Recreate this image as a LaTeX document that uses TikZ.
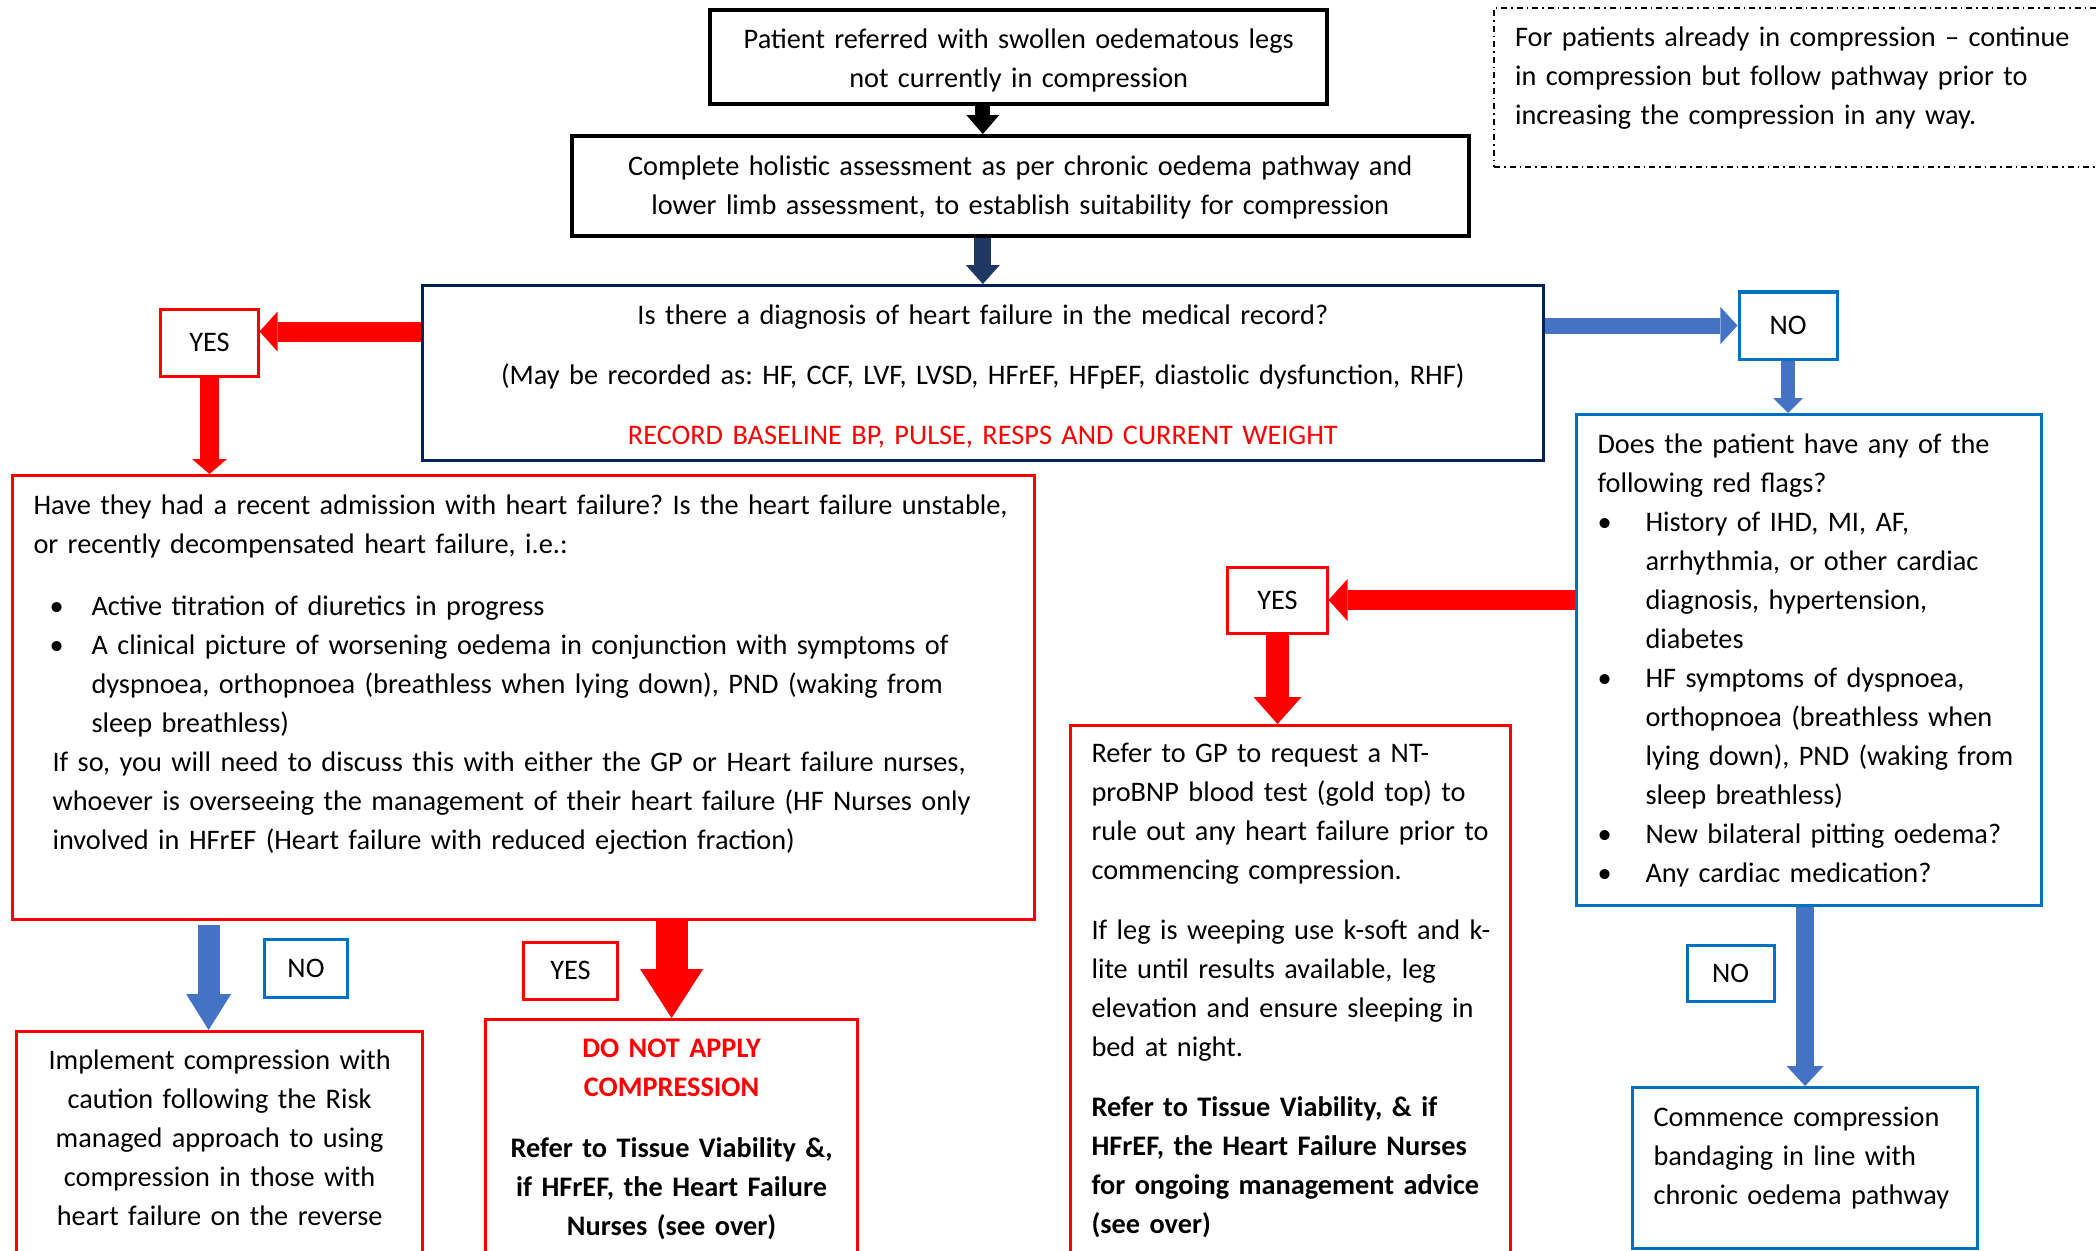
\documentclass[tikz,border=0pt]{standalone}
\usepackage{fontspec}
\setmainfont{Carlito}
\usetikzlibrary{arrows.meta,positioning,calc}
\definecolor{navyline}{RGB}{0,32,96}
\definecolor{blueline}{RGB}{0,112,192}
\definecolor{bluefill}{RGB}{68,114,196}
\definecolor{navyfill}{RGB}{32,56,100}
\newcommand{\boxfont}{\fontsize{8.05}{11.1}\selectfont\frenchspacing\hyphenpenalty=10000 }
\newcommand{\bul}[2]{\hspace*{#1}\makebox[#2][l]{\textbullet}}
\tikzset{
    box/.style={draw, line width=0.03cm, anchor=north west, inner xsep=0.21cm, inner ysep=0pt,
        align=left, font=\boxfont},
    blackbox/.style={box, line width=0.04cm, align=center},
    redbox/.style={box, draw=red},
    bluebox/.style={box, draw=blueline},
    lab/.style={draw, line width=0.03cm, inner sep=0pt, font=\boxfont},
    redarrow/.style n args={3}{draw=red, line width=#1, -{Triangle[width=#2, length=#3, line width=0pt]}},
    bluearrow/.style n args={3}{draw=bluefill, line width=#1, -{Triangle[width=#2, length=#3, line width=0pt]}},
    navyarrow/.style n args={3}{draw=navyfill, line width=#1, -{Triangle[width=#2, length=#3, line width=0pt]}},
    blackarrow/.style n args={3}{draw=black, line width=#1, -{Triangle[width=#2, length=#3, line width=0pt]}}
}
\begin{document}
\begin{tikzpicture}[x=0.01cm, y=-0.01cm]
    \useasboundingbox (0,0) rectangle (2098,1250);
    \clip (0,0) rectangle (2098,1250);

    % Boxes
    \node[blackbox, text width=5.75cm, text height=0.38cm, text depth=0.56cm] (start) at (708,8)
        {Patient referred with swollen oedematous legs\\not currently in compression};
    \node[blackbox, text width=8.54cm, text height=0.39cm, text depth=0.61cm] (assess) at (570,134)
        {Complete holistic assessment as per chronic oedema pathway and\\lower limb assessment, to establish suitability for compression};
    \node[box, draw=navyline, align=center, text width=10.78cm, text height=0.39cm, text depth=1.36cm] (quest) at (421,284)
        {Is there a diagnosis of heart failure in the medical record?\\[0.21cm]
         (May be recorded as: HF, CCF, LVF, LVSD, HFrEF, HFpEF, diastolic dysfunction, RHF)\\[0.21cm]
         \textcolor{red}{RECORD BASELINE BP, PULSE, RESPS AND CURRENT WEIGHT}};
    \node[box, draw, dash pattern=on 0.06cm off 0.04cm on 0.015cm off 0.04cm, line width=0.02cm,
        text width=5.98cm, text height=0.38cm, text depth=1.21cm] (note) at (1493,7)
        {For patients already in compression -- continue\\in compression but follow pathway prior to\\increasing the compression in any way.};
    \node[redbox, text width=9.79cm, text height=0.39cm, text depth=4.05cm] (hist) at (11,474)
        {Have they had a recent admission with heart failure? Is the heart failure unstable,\\
         or recently decompensated heart failure, i.e.:\\[0.23cm]
         \bul{0.16cm}{0.42cm}Active titration of diuretics in progress\\
         \bul{0.16cm}{0.42cm}A clinical picture of worsening oedema in conjunction with symptoms of\\
         \hspace*{0.58cm}dyspnoea, orthopnoea (breathless when lying down), PND (waking from\\
         \hspace*{0.58cm}sleep breathless)\\
         \hspace*{0.19cm}If so, you will need to discuss this with either the GP or Heart failure nurses,\\
         \hspace*{0.19cm}whoever is overseeing the management of their heart failure (HF Nurses only\\
         \hspace*{0.19cm}involved in HFrEF (Heart failure with reduced ejection fraction)};
    \node[bluebox, text width=4.23cm, text height=0.39cm, text depth=4.52cm] (flags) at (1575,413)
        {Does the patient have any of the\\following red flags?\\
         \bul{0cm}{0.48cm}History of IHD, MI, AF,\\
         \hspace*{0.48cm}arrhythmia, or other cardiac\\
         \hspace*{0.48cm}diagnosis, hypertension,\\
         \hspace*{0.48cm}diabetes\\
         \bul{0cm}{0.48cm}HF symptoms of dyspnoea,\\
         \hspace*{0.48cm}orthopnoea (breathless when\\
         \hspace*{0.48cm}lying down), PND (waking from\\
         \hspace*{0.48cm}sleep breathless)\\
         \bul{0cm}{0.48cm}New bilateral pitting oedema?\\
         \bul{0cm}{0.48cm}Any cardiac medication?};
    \node[redbox, text width=3.98cm, text height=0.37cm, text depth=5.5cm] (gp) at (1069,724)
        {Refer to GP to request a NT-\\proBNP blood test (gold top) to\\rule out any heart failure prior to\\commencing compression.\\[0.21cm]
         \mbox{If leg is weeping use k-soft and k-}\\lite until results available, leg\\elevation and ensure sleeping in\\bed at night.\\[0.21cm]
         \textbf{Refer to Tissue Viability, \& if}\\\textbf{HFrEF, the Heart Failure Nurses}\\\textbf{for ongoing management advice}\\\textbf{(see over)}};
    \node[redbox, align=center, text width=3.64cm, text height=0.38cm, text depth=2.5cm] (caution) at (15,1030)
        {Implement compression with\\caution following the Risk\\managed approach to using\\compression in those with\\heart failure on the reverse};
    \node[redbox, align=center, text width=3.30cm, text height=0.38cm, text depth=2.5cm] (noapply) at (484,1018)
        {\textcolor{red}{\textbf{DO NOT APPLY}}\\\textcolor{red}{\textbf{COMPRESSION}}\\[0.22cm]
         \textbf{Refer to Tissue Viability \&,}\\\textbf{if HFrEF, the Heart Failure}\\\textbf{Nurses (see over)}};
    \node[bluebox, text width=3.03cm, text height=0.39cm, text depth=1.22cm] (commence) at (1631,1086)
        {Commence compression\\bandaging in line with\\chronic oedema pathway};

    % Yes / No labels
    \node[lab, draw=red, minimum width=0.97cm, minimum height=0.67cm] (yesA) at (209.5,342.5) {YES};
    \node[lab, draw=blueline, minimum width=0.98cm, minimum height=0.67cm] (noA) at (1788,325.5) {NO};
    \node[lab, draw=red, minimum width=0.99cm, minimum height=0.66cm] (yesB) at (1277.5,600) {YES};
    \node[lab, draw=blueline, minimum width=0.82cm, minimum height=0.58cm] (noB) at (306,968) {NO};
    \node[lab, draw=red, minimum width=0.93cm, minimum height=0.57cm] (yesC) at (570.5,970.5) {YES};
    \node[lab, draw=blueline, minimum width=0.87cm, minimum height=0.56cm] (noC) at (1730.5,973) {NO};

    % Arrows
    \draw[blackarrow={0.15cm}{0.33cm}{0.19cm}] (start.south -| quest) -- (assess.north -| quest);
    \draw[navyarrow={0.17cm}{0.34cm}{0.19cm}] (assess.south -| quest) -- (quest.north);
    \draw[redarrow={0.2cm}{0.4cm}{0.18cm}] ([yshift=0.11cm]quest.west |- yesA.east) -- ([yshift=0.11cm]yesA.east);
    \draw[redarrow={0.18cm}{0.35cm}{0.15cm}] (yesA.south) -- (yesA |- hist.north);
    \draw[bluearrow={0.16cm}{0.37cm}{0.17cm}] (quest.east |- noA.west) -- (noA.west);
    \draw[bluearrow={0.14cm}{0.3cm}{0.15cm}] (noA.south) -- (noA |- flags.north);
    \draw[redarrow={0.2cm}{0.42cm}{0.19cm}] (flags.west |- yesB.east) -- (yesB.east);
    \draw[redarrow={0.23cm}{0.48cm}{0.27cm}] (yesB.south) -- (yesB |- gp.north);
    \draw[bluearrow={0.22cm}{0.45cm}{0.36cm}] ([xshift=-0.11cm, yshift=-0.04cm]hist.south -| caution) -- ([xshift=-0.11cm]caution.north);
    \draw[redarrow={0.32cm}{0.63cm}{0.49cm}] (hist.south -| noapply) -- (noapply.north);
    \draw[bluearrow={0.18cm}{0.37cm}{0.2cm}] (flags.south -| commence) -- (commence.north);
\end{tikzpicture}
\end{document}
